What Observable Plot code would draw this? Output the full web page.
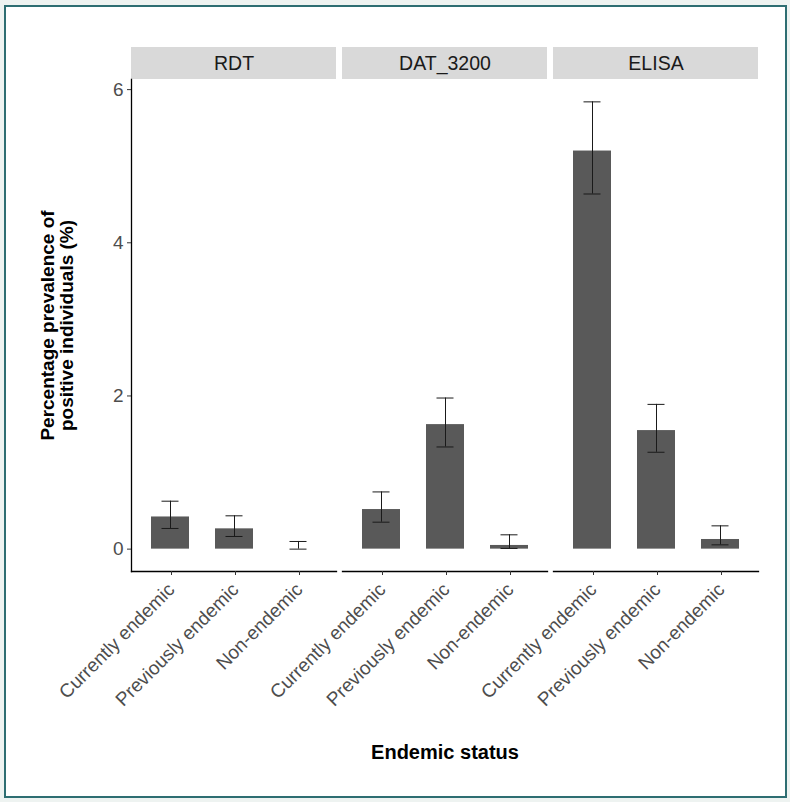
<!DOCTYPE html>
<html><head><meta charset="utf-8">
<script src="https://cdn.jsdelivr.net/npm/d3@7"></script>
<script src="https://cdn.jsdelivr.net/npm/@observablehq/plot@0.6"></script>
<style>
body{margin:0;background:#eef3f1;}
#frame{position:absolute;left:4px;top:5px;width:783px;height:793px;box-sizing:border-box;border:2px solid #2e6e72;background:#fff;}
#chart{position:absolute;left:0;top:0;}
</style></head><body><div id="frame"></div><div id="chart"></div>
<script>
const tests = ["RDT", "DAT_3200", "ELISA"];
const statuses = ["Currently endemic", "Previously endemic", "Non-endemic"];
// prevalence (%) per status, in the order of statuses
const rdtValue = [0.42, 0.265, 0.0];
const rdtLower = [0.27, 0.165, 0.0];
const rdtUpper = [0.626, 0.435, 0.10];
const datValue = [0.517, 1.626, 0.048];
const datLower = [0.352, 1.334, 0.009];
const datUpper = [0.747, 1.973, 0.187];
const elisaValue = [5.198, 1.548, 0.126];
const elisaLower = [4.637, 1.265, 0.056];
const elisaUpper = [5.84, 1.89, 0.304];
const yTicks = [0, 2, 4, 6];
const yTitle = "Percentage prevalence of\npositive individuals (%)";
const xTitle = "Endemic status";

const series = {RDT: [rdtValue, rdtLower, rdtUpper], DAT_3200: [datValue, datLower, datUpper], ELISA: [elisaValue, elisaLower, elisaUpper]};
const data = tests.flatMap(t => statuses.map((s, i) => ({
  test: t, status: s, value: series[t][0][i], lower: series[t][1][i], upper: series[t][2][i]
})));
const yMax = d3.max(data, d => d.upper);
const pad = 0.05 * yMax;

const W = 790, H = 802, mL = 130, mR = 31, mT = 79, mB = 231;
const panelH = H - mT - mB;
const ink = "#1a1a1a";

const plot = Plot.plot({
  width: W, height: H,
  marginLeft: mL, marginRight: mR, marginTop: mT, marginBottom: mB,
  style: {fontFamily: "Liberation Sans, Arial, sans-serif", background: "transparent"},
  fx: {domain: tests, paddingInner: 0.028, paddingOuter: 0, axis: null, label: null},
  x: {domain: statuses, paddingInner: 0.41, paddingOuter: 0.305, label: null},
  y: {domain: [-pad, yMax + pad], label: null},
  marks: [
    Plot.rect(tests, {fx: d => d, fill: "#d9d9d9", insetTop: -32, insetBottom: panelH}),
    Plot.text(tests, {fx: d => d, text: d => d, frameAnchor: "top", lineAnchor: "middle", dy: -16, fontSize: 19.5, fill: ink}),
    Plot.barY(data, {fx: "test", x: "status", y: "value", fill: "#595959"}),
    Plot.ruleX(data, {fx: "test", x: "status", y1: "lower", y2: "upper", stroke: ink, strokeWidth: 1}),
    Plot.tickY(data, {fx: "test", x: "status", y: "lower", stroke: ink, strokeWidth: 1, insetLeft: 10.5, insetRight: 10.5}),
    Plot.tickY(data, {fx: "test", x: "status", y: "upper", stroke: ink, strokeWidth: 1, insetLeft: 10.5, insetRight: 10.5}),
    Plot.frame({anchor: "bottom", stroke: "black", strokeWidth: 1.3}),
    Plot.frame({anchor: "left", facetAnchor: "left", stroke: "black", strokeWidth: 1.3}),
    Plot.axisY({ticks: yTicks, tickFormat: d3.format("d"), tickSize: 4, tickPadding: 4, fontSize: 19, color: "#4d4d4d", stroke: "#333", label: null}),
    Plot.axisX({tickRotate: -45, tickSize: 4, tickPadding: 11, dx: 1, fontSize: 19, color: "#4d4d4d", stroke: "#333", label: null}),
    Plot.text([{test: "RDT"}], {fx: "test", text: () => yTitle, frameAnchor: "left", dx: -74, rotate: -90, lineAnchor: "middle", textAnchor: "middle", fontWeight: "bold", fontSize: 19, lineHeight: 1.0, fill: "black"}),
    Plot.text([{test: "DAT_3200"}], {fx: "test", text: () => xTitle, frameAnchor: "bottom", lineAnchor: "middle", dy: 181, fontWeight: "bold", fontSize: 20, fill: "black"})
  ]
});
document.getElementById("chart").appendChild(plot);
</script></body></html>
